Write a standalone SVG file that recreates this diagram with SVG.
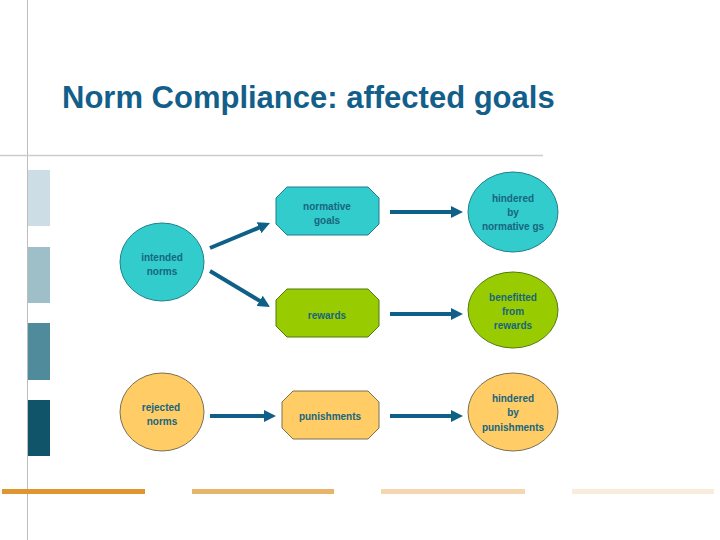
<svg xmlns="http://www.w3.org/2000/svg" width="720" height="540" viewBox="0 0 720 540">
<style>
.lbl{font-family:"Liberation Sans",Arial,sans-serif;font-size:10px;font-weight:bold;fill:#17657f;text-anchor:middle}
.teal{fill:#33cccc;stroke:#1f7f8c;stroke-width:1}
.green{fill:#99cc00;stroke:#4f7a10;stroke-width:1}
.orange{fill:#ffcc66;stroke:#7a7050;stroke-width:1}
.arr{stroke:#0f6089;stroke-width:4;fill:none;marker-end:url(#ah)}
</style>
<defs>
<marker id="ah" markerUnits="userSpaceOnUse" markerWidth="12" markerHeight="12" refX="2" refY="6" orient="auto">
<path d="M0,0 L12,6 L0,12 z" fill="#0f6089"/>
</marker>
</defs>
<rect width="720" height="540" fill="#ffffff"/>
<g id="frame">
<line x1="27.5" y1="0" x2="27.5" y2="540" stroke="#bdbdbd" stroke-width="1"/>
<line x1="0" y1="155.5" x2="543" y2="155.5" stroke="#cccccc" stroke-width="1.5"/>
<rect x="28" y="170" width="22" height="56" fill="#cddde6"/>
<rect x="28" y="247" width="22" height="56" fill="#9fbfc8"/>
<rect x="28" y="323" width="22" height="57" fill="#4f8b9b"/>
<rect x="28" y="400" width="22" height="56" fill="#0f5468"/>
<rect x="2" y="489" width="143" height="5" fill="#e0962e"/>
<rect x="192" y="489" width="142" height="5" fill="#e8b46a"/>
<rect x="381" y="489" width="144" height="5" fill="#f5d6ae"/>
<rect x="572" y="489" width="142" height="5" fill="#f9ecda"/>
</g>
<text x="62" y="108" font-family="'Liberation Sans',Arial,sans-serif" font-size="31" font-weight="bold" fill="#135f8a">Norm Compliance: affected goals</text>
<g id="connectors">
<line class="arr" x1="210" y1="248" x2="260.8" y2="226.9"/>
<line class="arr" x1="210" y1="271" x2="261.4" y2="301.9"/>
<line class="arr" x1="390" y1="212" x2="453" y2="212"/>
<line class="arr" x1="390" y1="314" x2="453" y2="314"/>
<line class="arr" x1="210" y1="416" x2="266" y2="416"/>
<line class="arr" x1="390" y1="416" x2="453" y2="416"/>
</g>
<g id="intended-norms">
<ellipse class="teal" cx="162" cy="262" rx="42" ry="39"/>
<text class="lbl" x="162" y="261">intended</text>
<text class="lbl" x="162" y="275">norms</text>
</g>
<g id="normative-goals">
<polygon class="teal" points="287,187 368,187 379,198 379,224 368,235 287,235 276,224 276,198"/>
<text class="lbl" x="327" y="210">normative</text>
<text class="lbl" x="327" y="224">goals</text>
</g>
<g id="rewards">
<polygon class="green" points="287,289 368,289 379,300 379,326 368,337 287,337 276,326 276,300"/>
<text class="lbl" x="327" y="319">rewards</text>
</g>
<g id="rejected-norms">
<ellipse class="orange" cx="162" cy="412" rx="42" ry="39"/>
<text class="lbl" x="161" y="411">rejected</text>
<text class="lbl" x="162" y="425">norms</text>
</g>
<g id="punishments">
<polygon class="orange" points="293,391 368,391 379,402 379,428 368,439 293,439 282,428 282,402"/>
<text class="lbl" x="330" y="420">punishments</text>
</g>
<g id="hindered-normative">
<ellipse class="teal" cx="513" cy="212" rx="45" ry="40"/>
<text class="lbl" x="513" y="202">hindered</text>
<text class="lbl" x="513" y="216">by</text>
<text class="lbl" x="513" y="230">normative gs</text>
</g>
<g id="benefitted-rewards">
<ellipse class="green" cx="513" cy="310" rx="45" ry="38"/>
<text class="lbl" x="513" y="301">benefitted</text>
<text class="lbl" x="513" y="315">from</text>
<text class="lbl" x="513" y="329">rewards</text>
</g>
<g id="hindered-punishments">
<ellipse class="orange" cx="513" cy="412" rx="45" ry="39"/>
<text class="lbl" x="513" y="402">hindered</text>
<text class="lbl" x="513" y="416">by</text>
<text class="lbl" x="513" y="431">punishments</text>
</g>
</svg>
